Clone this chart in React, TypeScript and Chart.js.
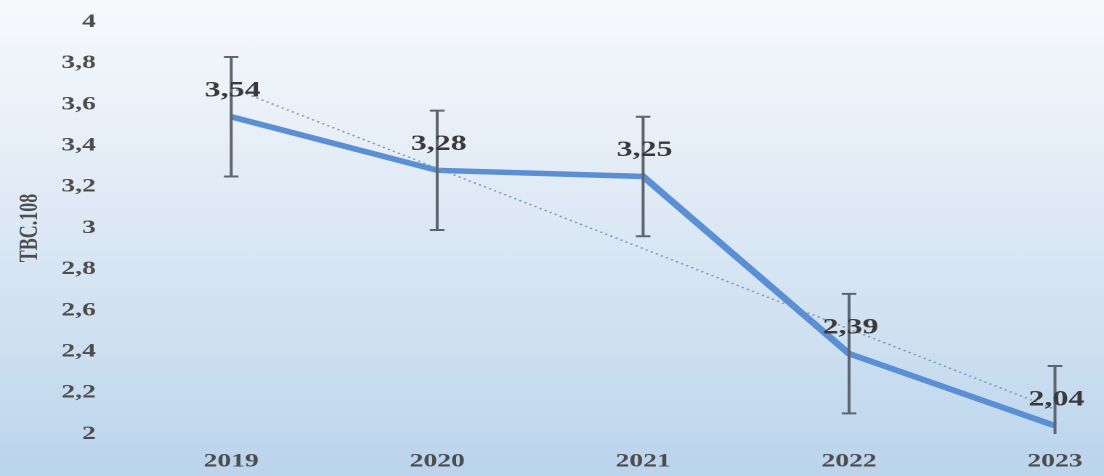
import React, { useEffect, useRef } from 'react';
import { Chart, registerables } from 'chart.js';

Chart.register(...registerables);

const years = [2019, 2020, 2021, 2022, 2023];
const values = [3.54, 3.28, 3.25, 2.39, 2.04];
const errors = [0.29, 0.29, 0.29, 0.29, 0.29];
const trendYears = [2019, 2023];
const trendValues = [3.68, 2.12];
const yTitle = 'ТВС.108';
const yMin = 2;
const yMax = 4;
const yStep = 0.2;

// drawing surface is narrower than the page and stretched horizontally (like the reference)
const CANVAS_W = 760;
const CANVAS_H = 476;

const fmt = (v: number) => String(Math.round(v * 100) / 100).replace('.', ',');

const errorBarPlugin = {
  id: 'errorBars',
  afterDatasetsDraw(chart: any) {
    const { ctx, chartArea, scales } = chart;
    ctx.save();
    ctx.beginPath();
    ctx.rect(chartArea.left, chartArea.top, chartArea.right - chartArea.left, chartArea.bottom - chartArea.top);
    ctx.clip();
    ctx.strokeStyle = '#5d6570';
    ctx.lineWidth = 2;
    years.forEach((yr, i) => {
      const x = scales.x.getPixelForValue(yr);
      const yTop = scales.y.getPixelForValue(values[i] + errors[i]);
      const yBot = scales.y.getPixelForValue(values[i] - errors[i]);
      ctx.beginPath();
      ctx.moveTo(x, yTop);
      ctx.lineTo(x, yBot);
      ctx.moveTo(x - 5, yTop);
      ctx.lineTo(x + 5, yTop);
      ctx.moveTo(x - 5, yBot);
      ctx.lineTo(x + 5, yBot);
      ctx.stroke();
    });
    ctx.restore();

    ctx.save();
    ctx.font = 'bold 22px "Liberation Serif"';
    ctx.fillStyle = '#3a3a3a';
    ctx.textAlign = 'center';
    ctx.textBaseline = 'middle';
    years.forEach((yr, i) => {
      const x = scales.x.getPixelForValue(yr);
      const y = scales.y.getPixelForValue(values[i]);
      ctx.fillText(fmt(values[i]), x + 1, y - 26);
    });
    ctx.restore();
  },
};

export default function App() {
  const ref = useRef<HTMLCanvasElement>(null);
  useEffect(() => {
    if (!ref.current) return;
    const chart = new Chart(ref.current, {
      type: 'line',
      data: {
        datasets: [
          {
            label: 'Trend',
            data: trendYears.map((x, i) => ({ x, y: trendValues[i] })),
            borderColor: '#7f9bbd',
            borderWidth: 1.5,
            borderDash: [1.5, 2.5],
            pointRadius: 0,
            fill: false,
          },
          {
            label: 'Values',
            data: years.map((x, i) => ({ x, y: values[i] })),
            borderColor: '#5a8fd3',
            borderWidth: 5.5,
            pointRadius: 0,
            tension: 0,
            fill: false,
          },
        ],
      },
      options: {
        animation: false,
        responsive: false,
        maintainAspectRatio: false,
        devicePixelRatio: 2,
        layout: { padding: { top: 22, right: 0, left: 0, bottom: 0 } },
        plugins: { legend: { display: false }, tooltip: { enabled: false } },
        scales: {
          x: {
            type: 'linear',
            min: 2018.364,
            max: 2023.238,
            grid: { display: false, drawTicks: false },
            border: { display: false },
            afterBuildTicks: (axis: any) => {
              axis.ticks = years.map((v) => ({ value: v }));
            },
            afterFit: (axis: any) => {
              axis.height = 42;
              axis.paddingLeft = 0;
              axis.paddingRight = 0;
            },
            ticks: {
              padding: 16,
              autoSkip: false,
              maxRotation: 0,
              color: '#4d4d4d',
              font: { family: '"Liberation Serif"', size: 19, weight: 'bold' },
              callback: (v: any) => String(v),
            },
          },
          y: {
            min: yMin,
            max: yMax,
            grid: { display: false, drawTicks: false },
            border: { display: false },
            afterFit: (axis: any) => {
              axis.width = 69;
              axis.paddingTop = 0;
              axis.paddingBottom = 0;
            },
            title: {
              display: true,
              text: yTitle,
              color: '#4d4d4d',
              font: { family: '"Liberation Serif"', size: 18, weight: 'bold' },
              padding: { top: 10, bottom: 0 },
            },
            ticks: {
              stepSize: yStep,
              padding: 3,
              color: '#4d4d4d',
              font: { family: '"Liberation Serif"', size: 19, weight: 'bold' },
              callback: (v: any) => fmt(Number(v)),
            },
          },
        },
      },
      plugins: [errorBarPlugin],
    } as any);
    return () => chart.destroy();
  }, []);
  return (
    <div
      style={{
        position: 'fixed',
        left: 0,
        top: 0,
        width: 1104,
        height: 476,
        overflow: 'hidden',
        background: 'linear-gradient(to bottom, #f7f9fc 0%, #e6eef7 30%, #cfe0f1 70%, #bad4ec 100%)',
      }}
    >
      <canvas
        ref={ref}
        width={CANVAS_W}
        height={CANVAS_H}
        style={{ width: 1104, height: 476, display: 'block' }}
      />
    </div>
  );
}
